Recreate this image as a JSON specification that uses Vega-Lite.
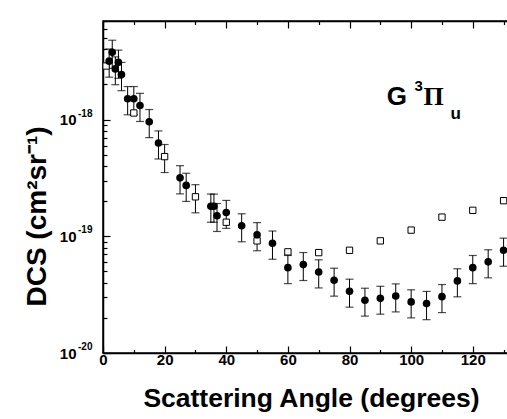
{
  "$schema": "https://vega.github.io/schema/vega-lite/v6.json",
  "width": 416,
  "height": 332,
  "autosize": "none",
  "padding": {"left": 103, "top": 21, "right": 0, "bottom": 66},
  "background": "white",
  "config": {
    "view": {"stroke": "black", "strokeWidth": 1.5},
    "font": "Liberation Sans",
    "axis": {
      "domainColor": "black", "domainWidth": 1.5, "tickColor": "black", "tickWidth": 1.2,
      "labelColor": "black", "titleColor": "black", "labelFont": "Liberation Sans", "titleFont": "Liberation Sans",
      "labelFontWeight": "bold", "titleFontWeight": "bold", "grid": false
    }
  },
  "datasets": {
    "pts": [
      {"angle": 2, "dcs": 3.17e-18, "lo": 2.31e-18, "hi": 4.03e-18, "series": "filled"},
      {"angle": 3, "dcs": 3.77e-18, "lo": 2.75e-18, "hi": 4.79e-18, "series": "filled"},
      {"angle": 4, "dcs": 2.72e-18, "lo": 1.99e-18, "hi": 3.45e-18, "series": "filled"},
      {"angle": 5, "dcs": 3.10e-18, "lo": 2.26e-18, "hi": 3.94e-18, "series": "filled"},
      {"angle": 6, "dcs": 2.43e-18, "lo": 1.77e-18, "hi": 3.09e-18, "series": "filled"},
      {"angle": 8, "dcs": 1.51e-18, "lo": 1.10e-18, "hi": 1.92e-18, "series": "filled"},
      {"angle": 10, "dcs": 1.51e-18, "lo": 1.10e-18, "hi": 1.92e-18, "series": "filled"},
      {"angle": 12, "dcs": 1.32e-18, "lo": 9.64e-19, "hi": 1.68e-18, "series": "filled"},
      {"angle": 15, "dcs": 9.6e-19, "lo": 7.01e-19, "hi": 1.22e-18, "series": "filled"},
      {"angle": 18, "dcs": 6.3e-19, "lo": 4.60e-19, "hi": 8.00e-19, "series": "filled"},
      {"angle": 25, "dcs": 3.17e-19, "lo": 2.31e-19, "hi": 4.03e-19, "series": "filled"},
      {"angle": 27, "dcs": 2.73e-19, "lo": 1.99e-19, "hi": 3.47e-19, "series": "filled"},
      {"angle": 35, "dcs": 1.81e-19, "lo": 1.32e-19, "hi": 2.30e-19, "series": "filled"},
      {"angle": 36, "dcs": 1.81e-19, "lo": 1.32e-19, "hi": 2.30e-19, "series": "filled"},
      {"angle": 37, "dcs": 1.50e-19, "lo": 1.10e-19, "hi": 1.91e-19, "series": "filled"},
      {"angle": 40, "dcs": 1.60e-19, "lo": 1.17e-19, "hi": 2.03e-19, "series": "filled"},
      {"angle": 45, "dcs": 1.23e-19, "lo": 8.98e-20, "hi": 1.56e-19, "series": "filled"},
      {"angle": 50, "dcs": 1.03e-19, "lo": 7.52e-20, "hi": 1.31e-19, "series": "filled"},
      {"angle": 55, "dcs": 8.71e-20, "lo": 6.36e-20, "hi": 1.11e-19, "series": "filled"},
      {"angle": 60, "dcs": 5.39e-20, "lo": 3.93e-20, "hi": 6.85e-20, "series": "filled"},
      {"angle": 65, "dcs": 5.72e-20, "lo": 4.18e-20, "hi": 7.26e-20, "series": "filled"},
      {"angle": 70, "dcs": 4.95e-20, "lo": 3.61e-20, "hi": 6.29e-20, "series": "filled"},
      {"angle": 75, "dcs": 4.2e-20, "lo": 3.07e-20, "hi": 5.33e-20, "series": "filled"},
      {"angle": 80, "dcs": 3.38e-20, "lo": 2.47e-20, "hi": 4.29e-20, "series": "filled"},
      {"angle": 85, "dcs": 2.83e-20, "lo": 2.07e-20, "hi": 3.59e-20, "series": "filled"},
      {"angle": 90, "dcs": 2.94e-20, "lo": 2.15e-20, "hi": 3.73e-20, "series": "filled"},
      {"angle": 95, "dcs": 3.08e-20, "lo": 2.25e-20, "hi": 3.91e-20, "series": "filled"},
      {"angle": 100, "dcs": 2.74e-20, "lo": 2.00e-20, "hi": 3.48e-20, "series": "filled"},
      {"angle": 105, "dcs": 2.65e-20, "lo": 1.93e-20, "hi": 3.37e-20, "series": "filled"},
      {"angle": 110, "dcs": 3.04e-20, "lo": 2.22e-20, "hi": 3.86e-20, "series": "filled"},
      {"angle": 115, "dcs": 4.15e-20, "lo": 3.03e-20, "hi": 5.27e-20, "series": "filled"},
      {"angle": 120, "dcs": 5.39e-20, "lo": 3.93e-20, "hi": 6.85e-20, "series": "filled"},
      {"angle": 125, "dcs": 6.04e-20, "lo": 4.41e-20, "hi": 7.67e-20, "series": "filled"},
      {"angle": 130, "dcs": 7.59e-20, "lo": 5.54e-20, "hi": 9.64e-20, "series": "filled"},
      {"angle": 1, "dcs": 2.88e-18, "lo": null, "hi": null, "series": "open"},
      {"angle": 10, "dcs": 1.14e-18, "lo": null, "hi": null, "series": "open"},
      {"angle": 20, "dcs": 4.82e-19, "lo": 3.52e-19, "hi": 6.12e-19, "series": "open"},
      {"angle": 30, "dcs": 2.18e-19, "lo": 1.59e-19, "hi": 2.77e-19, "series": "open"},
      {"angle": 40, "dcs": 1.32e-19, "lo": null, "hi": null, "series": "open"},
      {"angle": 50, "dcs": 9.14e-20, "lo": null, "hi": null, "series": "open"},
      {"angle": 60, "dcs": 7.36e-20, "lo": null, "hi": null, "series": "open"},
      {"angle": 70, "dcs": 7.25e-20, "lo": null, "hi": null, "series": "open"},
      {"angle": 80, "dcs": 7.59e-20, "lo": null, "hi": null, "series": "open"},
      {"angle": 90, "dcs": 9.14e-20, "lo": null, "hi": null, "series": "open"},
      {"angle": 100, "dcs": 1.13e-19, "lo": null, "hi": null, "series": "open"},
      {"angle": 110, "dcs": 1.46e-19, "lo": null, "hi": null, "series": "open"},
      {"angle": 120, "dcs": 1.67e-19, "lo": null, "hi": null, "series": "open"},
      {"angle": 130, "dcs": 2.02e-19, "lo": null, "hi": null, "series": "open"}
    ]
  },
  "data": {"name": "pts"},
  "resolve": {"axis": {"x": "independent"}},
  "layer": [
    {
      "transform": [{"filter": "isValid(datum.lo)"}],
      "mark": {"type": "rule", "color": "black", "strokeWidth": 1},
      "encoding": {
        "x": {
          "field": "angle", "type": "quantitative",
          "scale": {"domain": [0, 135], "nice": false, "zero": false},
          "axis": {
            "orient": "bottom",
            "values": [0, 10, 20, 30, 40, 50, 60, 70, 80, 90, 100, 110, 120, 130],
            "labelExpr": "datum.value % 20 === 0 ? datum.label : ''",
            "tickSize": {"condition": {"test": "datum.value % 20 === 0", "value": -7}, "value": -3.5},
            "labelFontSize": 15, "labelPadding": 6, "labelFlush": false, "labelOverlap": false,
            "title": "Scattering Angle (degrees)", "titleFontSize": 26.5, "titleY": 53, "titleBaseline": "alphabetic"
          }
        },
        "y": {
          "field": "lo", "type": "quantitative",
          "scale": {"type": "log", "domain": [1e-20, 7e-18], "nice": false},
          "axis": {
            "orient": "left",
            "values": [1e-20, 2e-20, 3e-20, 4e-20, 5e-20, 6e-20, 7e-20, 8e-20, 9e-20, 1e-19, 2e-19, 3e-19, 4e-19, 5e-19, 6e-19, 7e-19, 8e-19, 9e-19, 1e-18, 2e-18, 3e-18, 4e-18, 5e-18, 6e-18, 7e-18],
            "labelExpr": "(datum.value == 1e-20 || datum.value == 1e-19 || datum.value == 1e-18) ? '10' : ''",
            "tickSize": {"condition": {"test": "datum.value == 1e-20 || datum.value == 1e-19 || datum.value == 1e-18", "value": -7}, "value": -4},
            "labelFontSize": 15, "labelPadding": 34, "labelOverlap": false, "labelFlush": false,
            "title": "DCS (cm²sr⁻¹)", "titleFontSize": 28, "titleX": -66, "titleY": 195,
            "titleAlign": "center", "titleBaseline": "middle"
          }
        },
        "y2": {"field": "hi"}
      }
    },
    {
      "transform": [{"filter": "isValid(datum.lo)"}],
      "mark": {"type": "tick", "orient": "horizontal", "color": "black", "size": 8, "thickness": 1.2},
      "encoding": {
        "x": {"field": "angle", "type": "quantitative", "axis": null},
        "y": {"field": "lo", "type": "quantitative"}
      }
    },
    {
      "transform": [{"filter": "isValid(datum.lo)"}],
      "mark": {"type": "tick", "orient": "horizontal", "color": "black", "size": 8, "thickness": 1.2},
      "encoding": {
        "x": {"field": "angle", "type": "quantitative", "axis": null},
        "y": {"field": "hi", "type": "quantitative"}
      }
    },
    {
      "transform": [{"filter": "datum.series === 'open'"}],
      "mark": {"type": "point", "shape": "square", "filled": true, "fill": "white", "stroke": "black", "strokeWidth": 1, "size": 40, "opacity": 1},
      "encoding": {
        "x": {
          "field": "angle", "type": "quantitative",
          "axis": {
            "orient": "top",
            "values": [0, 10, 20, 30, 40, 50, 60, 70, 80, 90, 100, 110, 120, 130],
            "labels": false, "title": null,
            "tickSize": {"condition": {"test": "datum.value % 20 === 0", "value": -7}, "value": -3.5}
          }
        },
        "y": {"field": "dcs", "type": "quantitative"}
      }
    },
    {
      "transform": [{"filter": "datum.series === 'filled'"}],
      "mark": {"type": "point", "shape": "circle", "filled": true, "color": "black", "size": 58, "opacity": 1},
      "encoding": {
        "x": {"field": "angle", "type": "quantitative", "axis": null},
        "y": {"field": "dcs", "type": "quantitative"}
      }
    },
    {
      "data": {"values": [{"e": "-18", "v": 1e-18}, {"e": "-19", "v": 1e-19}, {"e": "-20", "v": 1e-20}]},
      "mark": {"type": "text", "align": "left", "baseline": "middle", "dx": -25, "dy": -6, "fontSize": 10, "fontWeight": "bold", "font": "Liberation Sans", "color": "black"},
      "encoding": {
        "x": {"datum": 0, "type": "quantitative", "axis": null},
        "y": {"field": "v", "type": "quantitative"},
        "text": {"field": "e"}
      }
    },
    {
      "data": {"values": [{}]},
      "mark": {"type": "text", "align": "left", "baseline": "alphabetic", "fontSize": 26, "fontWeight": "bold", "font": "Liberation Sans", "color": "black"},
      "encoding": {
        "x": {"datum": 92.1, "type": "quantitative", "axis": null},
        "y": {"datum": 1.33e-18, "type": "quantitative"},
        "text": {"value": "G"}
      }
    },
    {
      "data": {"values": [{}]},
      "mark": {"type": "text", "align": "left", "baseline": "alphabetic", "fontSize": 15, "fontWeight": "bold", "font": "Liberation Sans", "color": "black"},
      "encoding": {
        "x": {"datum": 101.1, "type": "quantitative", "axis": null},
        "y": {"datum": 1.75e-18, "type": "quantitative"},
        "text": {"value": "3"}
      }
    },
    {
      "data": {"values": [{}]},
      "mark": {"type": "text", "align": "left", "baseline": "alphabetic", "fontSize": 26, "fontWeight": "bold", "font": "Liberation Serif", "color": "black"},
      "encoding": {
        "x": {"datum": 104.0, "type": "quantitative", "axis": null},
        "y": {"datum": 1.345e-18, "type": "quantitative"},
        "text": {"value": "Π"}
      }
    },
    {
      "data": {"values": [{}]},
      "mark": {"type": "text", "align": "left", "baseline": "alphabetic", "fontSize": 17, "fontWeight": "bold", "font": "Liberation Sans", "color": "black"},
      "encoding": {
        "x": {"datum": 112.8, "type": "quantitative", "axis": null},
        "y": {"datum": 1.014e-18, "type": "quantitative"},
        "text": {"value": "u"}
      }
    }
  ]
}
